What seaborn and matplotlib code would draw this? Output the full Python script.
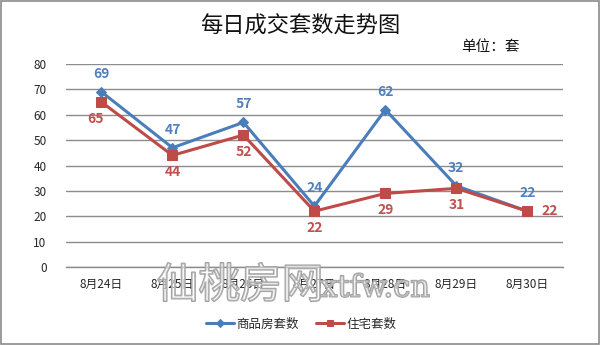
import matplotlib
matplotlib.use("Agg")
import matplotlib.pyplot as plt
import matplotlib.patheffects as pe
import seaborn as sns
import pandas as pd

dates = ["8月24日", "8月25日", "8月26日", "8月27日", "8月28日", "8月29日", "8月30日"]
commercial = [69, 47, 57, 24, 62, 32, 22]
residential = [65, 44, 52, 22, 29, 31, 22]
series_names = ["商品房套数", "住宅套数"]
y_ticks = [0, 10, 20, 30, 40, 50, 60, 70, 80]

sns.set_theme(style="white")
plt.rcParams["font.family"] = ["Noto Sans CJK SC", "DejaVu Sans"]

blue, red = "#4A7EBB", "#BE4B48"
blue_txt, red_txt = "#4F81BD", "#C0504D"

fig = plt.figure(figsize=(6.0, 3.45), dpi=100)
fig.patch.set_facecolor("white")
ax = fig.add_axes([0.11, 0.226, 0.828, 0.5885])

df = pd.DataFrame({"date": dates, "c": commercial, "r": residential})
df["pos"] = range(len(dates))

sns.lineplot(data=df, x="pos", y="c", ax=ax, color=blue, lw=2.2,
             marker="D", markersize=5.5, markeredgecolor=blue, label=series_names[0])
sns.lineplot(data=df, x="pos", y="r", ax=ax, color=red, lw=2.2,
             marker="s", markersize=7, markeredgecolor=red, label=series_names[1])

# value labels: commercial above, residential below
for i, v in enumerate(commercial):
    ax.annotate(str(v), (i, v), xytext=(0, 8), textcoords="offset points",
                ha="center", va="bottom", color=blue_txt, fontsize=10, fontweight="bold")
for i, v in enumerate(residential):
    if i == len(residential) - 1:
        ax.annotate(str(v), (i, v), xytext=(10, 0), textcoords="offset points",
                    ha="left", va="center", color=red_txt, fontsize=10, fontweight="bold")
    else:
        dx = -4 if i == 0 else 0
        ax.annotate(str(v), (i, v), xytext=(dx, -7), textcoords="offset points",
                    ha="center", va="top", color=red_txt, fontsize=10, fontweight="bold")

ax.set_xlim(-0.5, 6.5)
ax.set_ylim(0, 80)
ax.set_yticks(y_ticks)
ax.set_xticks(range(len(dates)))
ax.set_xticklabels(dates, fontsize=8.5)
ax.tick_params(axis="y", labelsize=8.5, length=0, pad=14)
ax.tick_params(axis="x", length=0, pad=8)
ax.set_xlabel("")
ax.set_ylabel("")
ax.yaxis.grid(True, color="#8C8C8C", lw=1)
ax.set_axisbelow(True)
for s in ["top", "right", "left"]:
    ax.spines[s].set_visible(False)
ax.spines["bottom"].set_color("#8C8C8C")
ax.spines["bottom"].set_linewidth(1)

leg = ax.legend(loc="center", bbox_to_anchor=(0.502, 0.061), bbox_transform=fig.transFigure,
                ncol=2, frameon=False, fontsize=9, handlelength=2.2, columnspacing=1.4,
                handletextpad=0.2, markerscale=0.7)

fig.text(0.5, 0.925, "每日成交套数走势图", ha="center", va="center", fontsize=16,
         fontweight="medium", color="#111111")
fig.text(0.818, 0.865, "单位：套", ha="center", va="center", fontsize=10.5, color="#111111")

# outlined site watermark
wm_fx = [pe.Stroke(linewidth=1.3, foreground="#A0A0A0"), pe.Normal()]
fig.text(0.40, 0.17, "仙桃房网", ha="center", va="center", fontsize=30,
         color=(1, 1, 1, 0.3), path_effects=wm_fx)
fig.text(0.625, 0.165, "xtfw.cn", ha="center", va="center", fontsize=22,
         family="DejaVu Serif", color=(1, 1, 1, 0.3), path_effects=wm_fx)

# figure frame
fig.add_artist(plt.Rectangle((0.001, 0.004), 0.997, 0.993, transform=fig.transFigure,
                             fill=False, edgecolor="#8A8A8A", lw=1.2))

fig.savefig("out.png", dpi=100, facecolor="white")
